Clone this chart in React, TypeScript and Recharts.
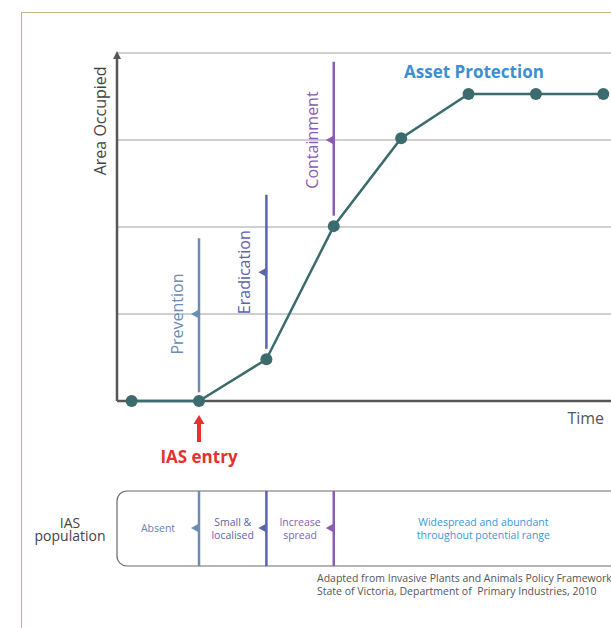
import React from "react";
import {
  LineChart,
  Line,
  XAxis,
  YAxis,
  ReferenceLine,
  ReferenceDot,
  ReferenceArea,
} from "recharts";

// time steps and the invaded area (grid units)
const timeSteps = [0, 1, 2, 3, 4, 5, 6, 7];
const areaOccupied = [0, 0, 0.48, 2.01, 3.02, 3.53, 3.53, 3.53];
const gridValues = [1, 2, 3, 4];

// management stages: vertical bar from..to, with a marker
const stageNames = ["Prevention", "Eradication", "Containment"];
const stageTimes = [1, 2, 3];
const stageFrom = [0.1, 0.6, 2.13];
const stageTo = [1.87, 2.37, 3.9];
const stageMarks = [1, 1.48, 3];

const X_MIN = -0.217;
const X_MAX = 7.5;
const Y_MAX = 4;

// IAS population strip
const populationLabels = [
  ["Absent"],
  ["Small &", "localised"],
  ["Increase", "spread"],
  ["Widespread and abundant", "throughout potential range"],
];
const populationBounds = [X_MIN, 1, 2, 3, 7.44];

const citation = [
  "Adapted from Invasive Plants and Animals Policy Framework",
  "State of Victoria, Department of  Primary Industries, 2010",
];

const FONT = "'Open Sans', 'DejaVu Sans', sans-serif";
const STAGE_COLORS = ["#6a8cb6", "#5b64ad", "#8a5cb3"];
const POP_COLORS = ["#5f84b0", "#5b64ad", "#8a5cb3", "#3a98d8"];
const LINE_COLOR = "#3c6b6e";
const AXIS_COLOR = "#575757";
const RED = "#e5322f";

const chartData = timeSteps.map((t, i) => ({ t, area: areaOccupied[i] }));

const stageMarker = (color: string, name: string) => (props: any) => {
  const { cx, cy } = props;
  return (
    <g>
      <polygon
        points={`${cx - 8},${cy} ${cx},${cy - 4.5} ${cx},${cy + 4.5}`}
        fill={color}
      />
      <text
        x={cx - 22}
        y={cy}
        transform={`rotate(-90 ${cx - 22} ${cy})`}
        textAnchor="middle"
        dominantBaseline="central"
        fontSize={16}
        fontFamily={FONT}
        fill={color}
      >
        {name}
      </text>
    </g>
  );
};

const divider = (color: string) => (props: any) => {
  const { cx, cy } = props;
  return (
    <g>
      <line x1={cx} y1={cy + 90} x2={cx} y2={cy + 165} stroke={color} strokeWidth={2.5} />
      <polygon
        points={`${cx - 8},${cy + 127} ${cx},${cy + 122.5} ${cx},${cy + 131.5}`}
        fill={color}
      />
    </g>
  );
};

const popLabel = (lines: string[], color: string) => (props: any) => {
  const { cx, cy } = props;
  const start = cy + 127 - ((lines.length - 1) * 13) / 2;
  return (
    <text
      textAnchor="middle"
      dominantBaseline="central"
      fontSize={10.5}
      fontFamily={FONT}
      fill={color}
    >
      {lines.map((l, i) => (
        <tspan key={i} x={cx} y={start + i * 13}>
          {l}
        </tspan>
      ))}
    </text>
  );
};

const PopulationBox = (props: any) => {
  const { x, y, width, height } = props;
  const base = y + height;
  return (
    <g fontFamily={FONT}>
      <rect
        x={x}
        y={base + 90}
        width={width}
        height={75}
        rx={10}
        fill="none"
        stroke="#6b6b6b"
        strokeWidth={1.2}
      />
      <text textAnchor="middle" dominantBaseline="central" fontSize={14} fill="#444">
        <tspan x={x - 47} y={base + 120.5}>IAS</tspan>
        <tspan x={x - 47} y={base + 134}>population</tspan>
      </text>
      <text fontSize={10.5} fill="#555" dominantBaseline="central" style={{ whiteSpace: "pre" }}>
        {citation.map((c, i) => (
          <tspan key={i} x={x + 200} y={base + 177 + i * 13}>
            {c}
          </tspan>
        ))}
      </text>
    </g>
  );
};

const IasEntry = (props: any) => {
  const { cx, cy } = props;
  return (
    <g>
      <polygon
        points={`${cx},${cy + 14} ${cx - 5.5},${cy + 23} ${cx + 5.5},${cy + 23}`}
        fill={RED}
      />
      <rect x={cx - 2} y={cy + 22} width={4} height={19} fill={RED} />
      <text
        x={cx}
        y={cy + 55}
        textAnchor="middle"
        dominantBaseline="central"
        fontSize={17}
        fontWeight="bold"
        fontFamily={FONT}
        fill={RED}
      >
        IAS entry
      </text>
    </g>
  );
};

const AxisArrow = (props: any) => {
  const { cx, cy } = props;
  return (
    <polygon
      points={`${cx},${cy - 2} ${cx - 4},${cy + 6} ${cx + 4},${cy + 6}`}
      fill={AXIS_COLOR}
    />
  );
};

const textShape =
  (label: string, dx: number, dy: number, style: any, rotate = false) =>
  (props: any) => {
    const { cx, cy } = props;
    const x = cx + dx;
    const y = cy + dy;
    return (
      <text
        x={x}
        y={y}
        transform={rotate ? `rotate(-90 ${x} ${y})` : undefined}
        textAnchor="middle"
        dominantBaseline="central"
        fontFamily={FONT}
        {...style}
      >
        {label}
      </text>
    );
  };

export default function App() {
  const popCenters = populationLabels.map(
    (_, i) => (populationBounds[i] + populationBounds[i + 1]) / 2
  );

  return (
    <div
      style={{
        position: "fixed",
        left: 0,
        top: 0,
        width: 611,
        height: 628,
        overflow: "hidden",
        background: "#fff",
      }}
    >
      <div
        style={{
          position: "absolute",
          left: 21,
          top: 12,
          width: 700,
          height: 700,
          borderLeft: "1.5px solid #c9b18b",
          borderTop: "1.5px solid #c9b18b",
        }}
      />
      <div style={{ position: "absolute", left: 0, top: 0 }}>
        <LineChart
          width={660}
          height={628}
          data={chartData}
          margin={{ top: 53, right: 23, left: 117, bottom: 227 }}
        >
          <XAxis dataKey="t" type="number" domain={[X_MIN, X_MAX]} hide />
          <YAxis type="number" domain={[0, Y_MAX]} hide />

          {gridValues.map((v) => (
            <ReferenceLine key={v} y={v} stroke="#a0a0a0" strokeWidth={1} />
          ))}
          <ReferenceLine y={0} stroke={AXIS_COLOR} strokeWidth={2.5} />
          <ReferenceLine
            segment={[
              { x: X_MIN, y: 0 },
              { x: X_MIN, y: Y_MAX - 0.05 },
            ]}
            stroke={AXIS_COLOR}
            strokeWidth={2.5}
          />
          <ReferenceDot x={X_MIN} y={Y_MAX} ifOverflow="visible" shape={AxisArrow} />

          {stageNames.map((name, i) => (
            <ReferenceLine
              key={name}
              segment={[
                { x: stageTimes[i], y: stageFrom[i] },
                { x: stageTimes[i], y: stageTo[i] },
              ]}
              stroke={STAGE_COLORS[i]}
              strokeWidth={2.5}
            />
          ))}
          {stageNames.map((name, i) => (
            <ReferenceDot
              key={name + "-m"}
              x={stageTimes[i]}
              y={stageMarks[i]}
              ifOverflow="visible"
              shape={stageMarker(STAGE_COLORS[i], name)}
            />
          ))}

          <Line
            type="linear"
            dataKey="area"
            stroke={LINE_COLOR}
            strokeWidth={2.5}
            dot={{ r: 6, fill: LINE_COLOR, stroke: "none", clipDot: false }}
            activeDot={false}
            isAnimationActive={false}
          />

          <ReferenceDot
            x={5.08}
            y={3.785}
            ifOverflow="visible"
            shape={textShape("Asset Protection", 0, 0, {
              fontSize: 17,
              fontWeight: "bold",
              fill: "#3b8fd2",
            })}
          />
          <ReferenceDot
            x={X_MIN}
            y={3.22}
            ifOverflow="visible"
            shape={textShape("Area Occupied", -17, 0, { fontSize: 16, fill: "#444" }, true)}
          />
          <ReferenceDot
            x={6.74}
            y={0}
            ifOverflow="visible"
            shape={textShape("Time", 0, 17, { fontSize: 16, fill: "#555" })}
          />
          <ReferenceDot x={1} y={0} ifOverflow="visible" shape={IasEntry} />

          <ReferenceArea
            x1={populationBounds[0]}
            x2={populationBounds[populationBounds.length - 1]}
            y1={0}
            y2={0.5}
            ifOverflow="visible"
            shape={PopulationBox}
          />
          {stageTimes.map((t, i) => (
            <ReferenceDot
              key={"d" + t}
              x={t}
              y={0}
              ifOverflow="visible"
              shape={divider(STAGE_COLORS[i])}
            />
          ))}
          {populationLabels.map((lines, i) => (
            <ReferenceDot
              key={"p" + i}
              x={popCenters[i]}
              y={0}
              ifOverflow="visible"
              shape={popLabel(lines, POP_COLORS[i])}
            />
          ))}
        </LineChart>
      </div>
    </div>
  );
}
